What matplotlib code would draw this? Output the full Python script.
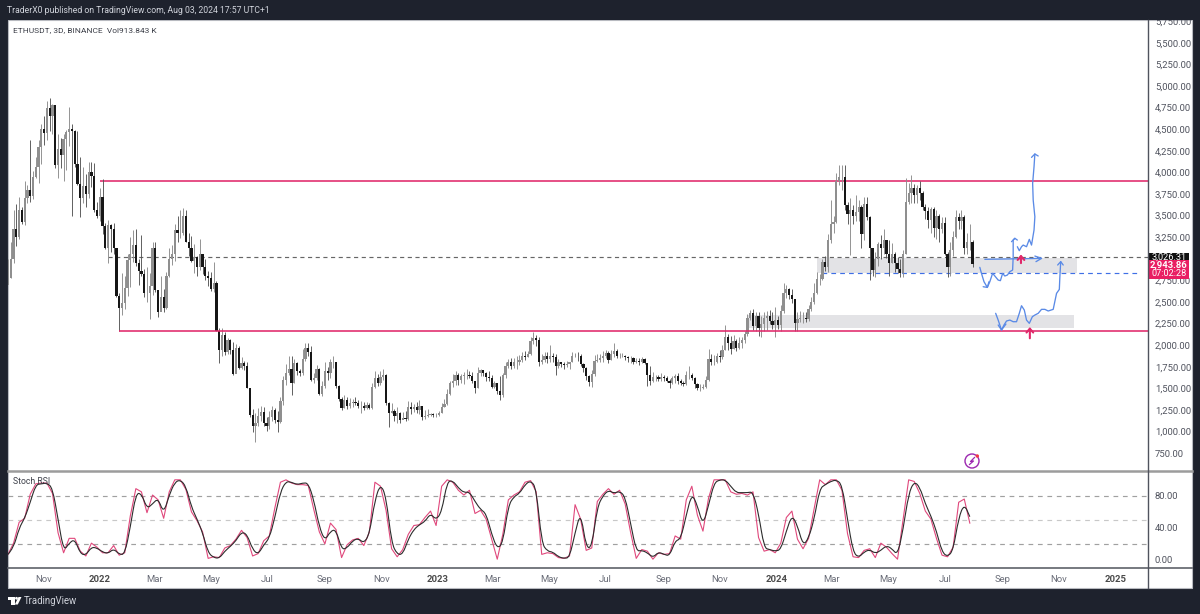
import matplotlib
matplotlib.use('Agg')
import matplotlib.pyplot as plt
from matplotlib.patches import Rectangle, Circle, Polygon, PathPatch
from matplotlib.path import Path
import numpy as np
import pandas as pd

plt.rcParams['font.family'] = ['Roboto', 'DejaVu Sans']

# 3D candles, oldest first
FIRST_BAR = pd.Timestamp('2021-09-24')
FIRST_OPEN = 2700
CLOSE = [
    2780, 3000, 3350, 3250, 3560, 3430, 3700, 3800, 3730, 3950,
    4060, 4290, 4500, 4460, 4740, 4650, 4780, 4080, 4270, 4200,
    4390, 4470, 4500, 4480, 4100, 3870, 3700, 3840, 3750, 4000,
    3960, 3560, 3500, 3720, 3380, 3120, 3390, 3350, 3120, 2570,
    2430, 2490, 2660, 2990, 3050, 3160, 2950, 2860, 2820, 2600,
    2600, 2680, 3120, 2640, 2380, 2560, 2430, 2800, 3000, 3060,
    3330, 3300, 3300, 3500, 3200, 3120, 2970, 3020, 2900, 3050,
    2900, 2800, 2780, 2650, 2720, 2170, 1950, 2120, 1920, 2060,
    1950, 1670, 1970, 1740, 1790, 1760, 1510, 1190, 1070, 1100,
    1180, 1230, 1100, 1060, 1170, 1250, 1130, 1110, 1350, 1600,
    1680, 1730, 1560, 1790, 1700, 1680, 1840, 1970, 1920, 1600,
    1620, 1720, 1430, 1530, 1700, 1680, 1800, 1800, 1530, 1380,
    1270, 1360, 1300, 1330, 1340, 1330, 1300, 1300, 1270, 1310,
    1270, 1520, 1620, 1560, 1630, 1650, 1330, 1220, 1240, 1180,
    1220, 1130, 1160, 1150, 1290, 1260, 1280, 1250, 1300, 1170,
    1180, 1190, 1200, 1190, 1190, 1210, 1290, 1320, 1440, 1560,
    1590, 1650, 1600, 1640, 1650, 1660, 1640, 1580, 1510, 1680,
    1710, 1680, 1630, 1620, 1520, 1560, 1470, 1420, 1650, 1760,
    1810, 1760, 1800, 1810, 1830, 1870, 1860, 1900, 2050, 2080,
    2060, 1810, 1830, 1870, 1840, 1880, 1860, 1760, 1800, 1780,
    1770, 1780, 1800, 1870, 1880, 1870, 1780, 1740, 1640, 1570,
    1670, 1820, 1830, 1850, 1870, 1910, 1830, 1900, 1930, 1880,
    1880, 1880, 1860, 1850, 1850, 1810, 1820, 1810, 1840, 1790,
    1650, 1590, 1630, 1630, 1610, 1630, 1620, 1590, 1560, 1620,
    1640, 1580, 1560, 1550, 1650, 1650, 1620, 1550, 1500, 1510,
    1520, 1600, 1840, 1800, 1800, 1880, 1860, 1950, 2100, 2020,
    1960, 2050, 1970, 2030, 2060, 2130, 2320, 2370, 2220, 2340,
    2200, 2240, 2310, 2340, 2280, 2230, 2290, 2230, 2400, 2610,
    2650, 2580, 2530, 2260, 2300, 2320, 2320, 2300, 2420, 2500,
    2600, 2770, 2770, 2960, 2900, 3220, 3400, 3430, 3900, 3950,
    3950, 3620, 3520, 3560, 3490, 3540, 3600, 3290, 3630, 3480,
    3120, 2870, 3000, 3170, 3130, 3220, 3050, 2950, 3050, 2950,
    2880, 2830, 3060, 3660, 3760, 3820, 3740, 3820, 3760, 3600,
    3550, 3450, 3580, 3360, 3490, 3350, 3410, 3050, 2900, 3100,
    3250, 3480, 3440, 3480, 3130, 3200, 3200, 2943.86,
]
HIGH = [
    3000, 3200, 3560, 3640, 3720, 3600, 3900, 3860, 4370, 4020,
    4180, 4380, 4560, 4650, 4830, 4860, 4790, 4760, 4440, 4400,
    4440, 4490, 4760, 4560, 4490, 4480, 4180, 4060, 3980, 4120,
    4120, 4110, 3660, 3820, 3920, 3420, 3450, 3400, 3420, 3130,
    2610, 2830, 2800, 3060, 3250, 3330, 3340, 3000, 3280, 2880,
    2900, 2840, 3190, 3190, 2640, 2800, 2650, 2850, 3120, 3160,
    3400, 3490, 3560, 3590, 3570, 3300, 3260, 3170, 3030, 3230,
    3060, 3000, 2860, 2850, 2960, 2740, 2200, 2200, 2150, 2080,
    2070, 2040, 2010, 1990, 1860, 1820, 1800, 1510, 1260, 1220,
    1270, 1300, 1280, 1170, 1240, 1300, 1270, 1240, 1400, 1640,
    1780, 1870, 1880, 1840, 1800, 1730, 1960, 2030, 2030, 1990,
    1680, 1770, 1740, 1580, 1810, 1750, 1840, 1880, 1810, 1540,
    1400, 1420, 1400, 1390, 1380, 1400, 1360, 1350, 1340, 1340,
    1330, 1560, 1700, 1670, 1700, 1720, 1670, 1340, 1330, 1260,
    1290, 1230, 1230, 1240, 1350, 1340, 1320, 1340, 1370, 1300,
    1250, 1260, 1220, 1210, 1210, 1240, 1330, 1380, 1490, 1590,
    1670, 1700, 1680, 1670, 1690, 1720, 1700, 1690, 1590, 1750,
    1720, 1710, 1690, 1700, 1660, 1580, 1560, 1640, 1680, 1800,
    1840, 1850, 1850, 1870, 1890, 1920, 1930, 1930, 2090, 2150,
    2120, 2100, 1900, 1920, 1920, 2000, 1910, 1900, 1840, 1810,
    1810, 1820, 1810, 1920, 1910, 1920, 1900, 1790, 1750, 1650,
    1710, 1890, 1900, 1900, 1930, 1950, 1930, 1940, 2030, 1960,
    1910, 1910, 1890, 1880, 1880, 1860, 1850, 1850, 1860, 1850,
    1790, 1760, 1690, 1660, 1660, 1680, 1650, 1640, 1610, 1640,
    1670, 1680, 1610, 1590, 1700, 1760, 1680, 1630, 1560, 1550,
    1550, 1640, 1960, 1900, 1890, 1910, 1950, 2000, 2230, 2130,
    2110, 2120, 2070, 2100, 2090, 2170, 2360, 2410, 2420, 2390,
    2380, 2340, 2380, 2400, 2410, 2390, 2440, 2340, 2460, 2720,
    2700, 2660, 2650, 2540, 2380, 2400, 2380, 2380, 2470, 2560,
    2720, 2850, 2820, 3000, 3030, 3290, 3680, 3500, 3990, 4090,
    4090, 4090, 3660, 3700, 3620, 3740, 3680, 3620, 3720, 3720,
    3500, 3100, 3080, 3200, 3280, 3340, 3180, 3220, 3180, 3080,
    3020, 3000, 3100, 3930, 3880, 3970, 3870, 3860, 3900, 3780,
    3640, 3600, 3600, 3600, 3570, 3520, 3480, 3480, 3080, 3200,
    3320, 3560, 3530, 3560, 3510, 3300, 3400, 3220,
]
LOW = [
    2740, 2780, 2950, 3150, 3230, 3400, 3390, 3650, 3660, 3690,
    3930, 3880, 4100, 4320, 4380, 4480, 4440, 4050, 3935, 4050,
    3900, 4030, 4300, 3500, 4060, 3860, 3480, 3650, 3600, 3700,
    3830, 3540, 3470, 3440, 3290, 3110, 2950, 3080, 3060, 2560,
    2160, 2350, 2420, 2570, 2670, 2960, 2920, 2700, 2800, 2560,
    2500, 2300, 2580, 2620, 2330, 2400, 2380, 2420, 2790, 2930,
    2980, 3200, 3240, 3280, 3190, 3030, 2960, 2830, 2800, 2870,
    2820, 2750, 2690, 2630, 2620, 2160, 1790, 1880, 1890, 1900,
    1900, 1660, 1680, 1730, 1720, 1710, 1500, 1170, 1000, 880,
    1060, 1120, 1060, 1010, 1030, 1120, 1100, 1000, 1100, 1310,
    1540, 1660, 1420, 1560, 1650, 1640, 1660, 1820, 1880, 1580,
    1560, 1600, 1420, 1410, 1510, 1600, 1620, 1740, 1510, 1350,
    1250, 1270, 1260, 1270, 1290, 1310, 1270, 1210, 1250, 1260,
    1260, 1260, 1500, 1530, 1540, 1600, 1310, 1050, 1210, 1120,
    1100, 1100, 1150, 1120, 1130, 1200, 1230, 1220, 1200, 1130,
    1150, 1170, 1180, 1170, 1170, 1180, 1210, 1280, 1310, 1420,
    1520, 1540, 1540, 1560, 1550, 1610, 1620, 1560, 1450, 1500,
    1640, 1640, 1590, 1590, 1500, 1500, 1430, 1370, 1400, 1620,
    1740, 1720, 1740, 1730, 1770, 1800, 1830, 1860, 1890, 2010,
    1990, 1760, 1780, 1800, 1790, 1800, 1810, 1660, 1740, 1750,
    1730, 1750, 1730, 1800, 1860, 1820, 1760, 1690, 1600, 1530,
    1520, 1640, 1810, 1800, 1810, 1850, 1790, 1830, 1860, 1850,
    1850, 1860, 1830, 1800, 1790, 1780, 1790, 1770, 1790, 1780,
    1530, 1540, 1570, 1590, 1590, 1580, 1590, 1570, 1500, 1550,
    1560, 1550, 1540, 1530, 1540, 1610, 1600, 1510, 1480, 1470,
    1490, 1500, 1590, 1770, 1770, 1790, 1810, 1840, 1950, 1950,
    1900, 1960, 1930, 1960, 1970, 2030, 2110, 2290, 2180, 2160,
    2110, 2100, 2170, 2180, 2240, 2190, 2090, 2190, 2170, 2370,
    2550, 2540, 2490, 2170, 2160, 2270, 2260, 2270, 2280, 2400,
    2480, 2590, 2700, 2750, 2860, 2850, 3180, 3300, 3420, 3860,
    3800, 3560, 3400, 3040, 3400, 3440, 3440, 3130, 3220, 3450,
    2750, 2800, 2790, 2920, 3000, 3050, 3010, 2800, 2950, 2850,
    2840, 2790, 2790, 3050, 3640, 3650, 3650, 3650, 3680, 3560,
    3460, 3360, 3300, 3250, 3230, 3200, 3300, 3040, 2790, 2800,
    3030, 3240, 3350, 3340, 3050, 3050, 3100, 2900,
]

# Stoch RSI sampled on every second bar
STOCH_K = [
    7, 21, 47, 52, 82, 95, 96, 96, 83, 34, 9, 27, 27, 11, 5, 21, 16, 9, 9, 18,
    6, 9, 55, 89, 85, 59, 81, 75, 52, 85, 100, 100, 88, 60, 49, 35, 2, 4, 3, 15,
    18, 26, 37, 28, 5, 8, 24, 30, 65, 97, 100, 96, 94, 94, 93, 63, 35, 20, 46, 38,
    3, 19, 25, 27, 18, 35, 97, 92, 62, 14, 4,
    13, 32, 43, 44, 53, 61, 43, 92, 100, 97, 87, 81, 87, 58, 62, 51, 26, 1, 32, 75,
    81, 85, 97, 99, 85, 7, 9, 8, 3, 2, 5, 69, 51, 12, 15, 73, 82, 89, 82, 87,
    70, 34, 2, 13, 11, 1, 9, 7, 8, 30, 26, 75, 92, 56, 36, 77, 100, 100, 100, 85,
    82, 83, 81, 85, 28, 11, 13, 9, 21, 53, 61, 26,
    14, 27, 64, 100, 94, 100, 100, 87, 33, 4, 3, 12, 14, 3, 21, 16, 8, 1, 51, 100,
    98, 83, 61, 51, 27, 6, 4, 16, 72, 76, 46,
]
STOCH_D = [
    7, 15, 40, 52, 72, 94, 95, 96, 90, 51, 11, 21, 26, 8, 6, 16, 15, 10, 8, 14,
    7, 7, 41, 83, 83, 64, 70, 77, 58, 81, 97, 100, 92, 66, 51, 34, 9, 3, 2, 11,
    17, 24, 35, 32, 13, 7, 19, 27, 53, 85, 98, 97, 94, 96, 96, 75, 41, 24, 36, 38,
    13, 15, 24, 27, 21, 32, 75, 95, 79, 21, 7,
    7, 26, 38, 44, 48, 58, 50, 60, 98, 99, 90, 84, 85, 73, 63, 58, 32, 14, 21, 68,
    79, 83, 94, 99, 90, 21, 11, 10, 4, 2, 3, 34, 60, 15, 16, 66, 80, 87, 83, 86,
    79, 45, 11, 12, 9, 3, 10, 7, 5, 24, 26, 56, 83, 68, 43, 68, 96, 100, 100, 92,
    84, 84, 84, 85, 58, 15, 13, 11, 13, 36, 56, 43,
    18, 27, 51, 89, 94, 98, 100, 94, 51, 10, 3, 10, 13, 8, 12, 18, 14, 6, 38, 83,
    98, 91, 70, 55, 36, 10, 4, 12, 53, 70, 54,
]
STOCH_LEVELS = [80, 50, 20]

PRICE_TICKS = [750, 1000, 1250, 1500, 1750, 2000, 2250, 2500, 2750, 3250, 3500, 3750,
               4000, 4250, 4500, 4750, 5000, 5250, 5500, 5750]
STOCH_TICKS = [0, 40, 80]
MONTH_DATES = ['2021-11-01', '2022-01-01', '2022-03-01', '2022-05-01', '2022-07-01',
               '2022-09-01', '2022-11-01', '2023-01-01', '2023-03-01', '2023-05-01',
               '2023-07-01', '2023-09-01', '2023-11-01', '2024-01-01', '2024-03-01',
               '2024-05-01', '2024-07-01', '2024-09-01', '2024-11-01', '2025-01-01']
MONTH_LABELS = ['Nov', '2022', 'Mar', 'May', 'Jul', 'Sep', 'Nov', '2023', 'Mar', 'May',
                'Jul', 'Sep', 'Nov', '2024', 'Mar', 'May', 'Jul', 'Sep', 'Nov', '2025']

# Horizontal levels
RESISTANCE = 3905
SUPPORT = 2160
PREV_CLOSE = 3026.31
LAST_PRICE = 2943.86
BLUE_LEVEL = 2835

# Hand-drawn projection: (bar, price) strokes
STROKE_FLAT = ([351.4, 371.8], [2994, 3005])
STROKE_DIP_BARS = [349.6, 350.2, 351.1, 352.3, 353.2, 354.2, 355, 356.2, 357, 357.8, 358.6, 359.5,
                   360.4, 361.4, 361.6, 361.6, 362.2]
STROKE_DIP_PRICES = [2901, 2831, 2735, 2669, 2735, 2832, 2801, 2754, 2747, 2831, 2801, 2812,
                     2851, 2870, 3024, 3217, 3237]
STROKE_UP_BARS = [363.1, 363.8, 364.6, 365.2, 366.4, 367.4, 368.2, 369.1, 369.4, 368.8, 368.6, 369.1, 369.4]
STROKE_UP_PRICES = [3140, 3094, 3140, 3159, 3140, 3225, 3159, 3333, 3487, 3680, 3873, 4066, 4213]
STROKE_LOW_BARS = [355.3, 356.2, 357.4, 358.3, 359.2, 360.4, 361.6, 362.8, 363.8, 364.6, 365.6, 366.4,
                   367.4, 368.5, 369.4, 370.6, 371.8, 373, 374.2, 376, 377.2, 378.2, 378.4, 378.7]
STROKE_LOW_PRICES = [2369, 2291, 2176, 2234, 2280, 2291, 2272, 2272, 2369, 2457, 2407, 2291,
                     2253, 2330, 2349, 2369, 2415, 2415, 2396, 2415, 2600, 2646, 2793, 2967]
ARROW_HEADS = [
    ([350.8, 352.3, 352.9], [2677, 2669, 2735]),
    ([361.0, 362.2, 363.1], [3198, 3237, 3217]),
    ([368.2, 369.4, 370.6], [4174, 4213, 4190]),
    ([369.4, 371.8, 369.8], [3032, 3005, 2967]),
    ([356.2, 357.4, 359.0], [2234, 2176, 2245]),
    ([377.6, 378.7, 379.6], [2928, 2967, 2928]),
]

assert len(CLOSE) == len(HIGH) == len(LOW), (len(CLOSE), len(HIGH), len(LOW))
assert len(STOCH_K) == len(STOCH_D), (len(STOCH_K), len(STOCH_D))

DARK = '#1e222d'
PINK = '#e0286a'
SKETCH = '#5a8ae6'
AXIS_TEXT = '#50535e'
W, H = 1200, 614


def pane(left, top, right, bottom):
    return fig.add_axes([left / W, 1 - bottom / H, (right - left) / W, (bottom - top) / H])


def rounded_line(ax, xs, ys, **style):
    # quadratic segments through the midpoints, so corners come out round
    xs, ys = np.asarray(xs, float), np.asarray(ys, float)
    mids = np.c_[(xs[:-1] + xs[1:]) / 2, (ys[:-1] + ys[1:]) / 2]
    verts = [(xs[0], ys[0])]
    codes = [Path.MOVETO]
    for i in range(1, len(xs) - 1):
        verts += [(xs[i], ys[i]), tuple(mids[i])]
        codes += [Path.CURVE3, Path.CURVE3]
    verts.append((xs[-1], ys[-1]))
    codes.append(Path.LINETO)
    ax.add_patch(PathPatch(Path(verts, codes), fill=False, **style))


fig = plt.figure(figsize=(12, 6.14), dpi=100, facecolor=DARK)

# white chart panel behind the panes
back = pane(0, 0, W, H)
back.set_xlim(0, W)
back.set_ylim(H, 0)
back.axis('off')
back.add_patch(Rectangle((7.5, 20), 1184.5, 568, fc='white', ec='#b8bac0', lw=0.8))

ax = pane(7.5, 20, 1148, 471)
rsi = pane(7.5, 471, 1148, 568)
for a in (ax, rsi):
    a.patch.set_visible(False)
    for s in a.spines.values():
        s.set_visible(False)
    a.set_xlim(-0.18, 410.1)
    a.yaxis.tick_right()
    a.tick_params(axis='y', length=0, pad=5, labelsize=6.8, labelcolor=AXIS_TEXT)
ax.set_xticks([])
ax.set_ylim(544, 5764)
rsi.set_ylim(-10, 111)

# candles
close = np.array(CLOSE, dtype=float)
opens = np.r_[FIRST_OPEN, close[:-1]]
bars = np.arange(len(close))
up = close >= opens
ax.vlines(bars[up], np.array(LOW)[up], np.array(HIGH)[up], color='#8c8c8c', lw=0.65, zorder=3)
ax.vlines(bars[~up], np.array(LOW)[~up], np.array(HIGH)[~up], color='#555555', lw=0.65, zorder=3)
ax.bar(bars[up], (close - opens)[up], bottom=opens[up], width=0.8, color='#8f8f8f', lw=0, zorder=4)
ax.bar(bars[~up], (close - opens)[~up], bottom=opens[~up], width=0.8, color='#161616', lw=0, zorder=4)

# zones
ax.fill_between([291, 384.5], 2830, 3010, color='#e3e3e6', lw=0, zorder=1)
ax.fill_between([266, 383.5], 2200, 2350, color='#e3e3e6', lw=0, zorder=1)

# levels
ax.hlines(RESISTANCE, 33, 410.1, color=PINK, lw=1.15, zorder=2)
ax.hlines(SUPPORT, 40, 410.1, color=PINK, lw=1.15, zorder=5)
ax.hlines(PREV_CLOSE, 36, 410.1, color='#666666', lw=0.85, linestyles=(0, (3.5, 3)), zorder=2)
ax.hlines(BLUE_LEVEL, 293, 407, color='#3f6fe6', lw=0.85, linestyles=(0, (4, 3.5)), zorder=2)

# projection strokes
sketch = dict(color=SKETCH, lw=0.95, zorder=6, solid_joinstyle='round', solid_capstyle='round')
ax.plot(*STROKE_FLAT, **sketch)
ax.plot(STROKE_DIP_BARS, STROKE_DIP_PRICES, **sketch)
ax.plot(STROKE_UP_BARS, STROKE_UP_PRICES, **sketch)
ax.plot(STROKE_LOW_BARS, STROKE_LOW_PRICES, **sketch)
for head_x, head_y in ARROW_HEADS:
    ax.plot(head_x, head_y, **sketch)

for bar, tail, tip in [(364.4, 2950, 3050), (367.6, 2080, 2210)]:
    ax.annotate('', xy=(bar, tip), xytext=(bar, tail), zorder=7,
                arrowprops=dict(arrowstyle='->,head_length=0.35,head_width=0.3', color=PINK,
                                lw=1.5, mutation_scale=8, shrinkA=0, shrinkB=0))

ax.set_yticks(PRICE_TICKS)
ax.set_yticklabels([f'{v:,.2f}' for v in PRICE_TICKS])

# Stoch RSI pane
stoch_bars = np.arange(len(STOCH_K)) * 2
for level in STOCH_LEVELS:
    rsi.axhline(level, color='#c8c8c8' if level == 50 else '#a0a0a0', lw=0.85,
                linestyle=(0, (4, 4)), zorder=1)
rsi.plot(stoch_bars, STOCH_K, color='#e0487c', lw=0.8, zorder=2)
rounded_line(rsi, stoch_bars, STOCH_D, ec='#2c2c2c', lw=0.8, zorder=3)
rsi.set_yticks(STOCH_TICKS)
rsi.set_yticklabels([f'{v:.2f}' for v in STOCH_TICKS])

tick_bars = [(pd.Timestamp(d) - FIRST_BAR).days / 3 for d in MONTH_DATES]
rsi.set_xticks(tick_bars)
rsi.set_xticklabels(MONTH_LABELS)
rsi.tick_params(axis='x', length=0, pad=5, labelsize=6.8, labelcolor='#6a6d78')
for label in rsi.get_xticklabels():
    if label.get_text().isdigit():
        label.set_fontweight('bold')
        label.set_color('#4a4a4a')

# frame, captions and price tags go on top of the panes
top = pane(0, 0, W, H)
top.set_xlim(0, W)
top.set_ylim(H, 0)
top.axis('off')
top.patch.set_visible(False)

top.add_patch(Rectangle((0, 0), W, 20, fc=DARK, lw=0))
top.plot([7.5, 1192], [471, 471], color='#9c9c9c', lw=1.8)
top.plot([7.5, 1192], [568, 568], color='#5f6269', lw=1.2)
top.plot([1148, 1148], [20, 588], color='#50535e', lw=1.0)

top.text(7, 10.5, 'TraderX0 published on TradingView.com, Aug 03, 2024 17:57 UTC+1',
         color='#d1d4dc', fontsize=6.25, va='center')
top.text(13, 30.5, 'ETHUSDT, 3D, BINANCE  Vol913.843 K', color='#3c3f48', fontsize=6.0, va='center')
top.text(13, 482, 'Stoch RSI', color='#3c3f48', fontsize=6.2, va='center')

top.add_patch(Rectangle((1149, 253), 40, 8, fc='#111111', lw=0))
top.text(1169, 257, f'{PREV_CLOSE:,.2f}', color='white', fontsize=6.6, ha='center', va='center')
top.add_patch(Rectangle((1149, 260), 40, 19, fc='#e91e63', lw=0))
top.text(1169, 265, f'{LAST_PRICE:,.2f}', color='white', fontsize=6.8, fontweight='bold',
         ha='center', va='center')
top.text(1169, 274, '07:02:28', color='white', fontsize=6.6, ha='center', va='center')

# lightning badge
top.add_patch(Circle((972, 461), 7, fc='white', ec='#9c27b0', lw=1.0))
top.plot([974.5, 970.5, 973.5, 969.5], [457.5, 461.5, 461, 464.5], color='#9c27b0', lw=0.9)
top.add_patch(Circle((977.3, 456), 1.7, fc='#f23645', lw=0))

# footer logo
top.add_patch(Rectangle((8, 597), 6.5, 2.6, fc='white', lw=0))
top.add_patch(Rectangle((11, 597), 3.5, 7.5, fc='white', lw=0))
top.add_patch(Circle((16.5, 598.3), 1.4, fc='white', lw=0))
top.add_patch(Polygon([(14.8, 604.5), (18.5, 597), (21.5, 597), (17.8, 604.5)], fc='white', lw=0))
top.text(24, 601.5, 'TradingView', color='#d1d4dc', fontsize=6.9, va='center')

fig.savefig('out.png', dpi=100, facecolor=DARK)
